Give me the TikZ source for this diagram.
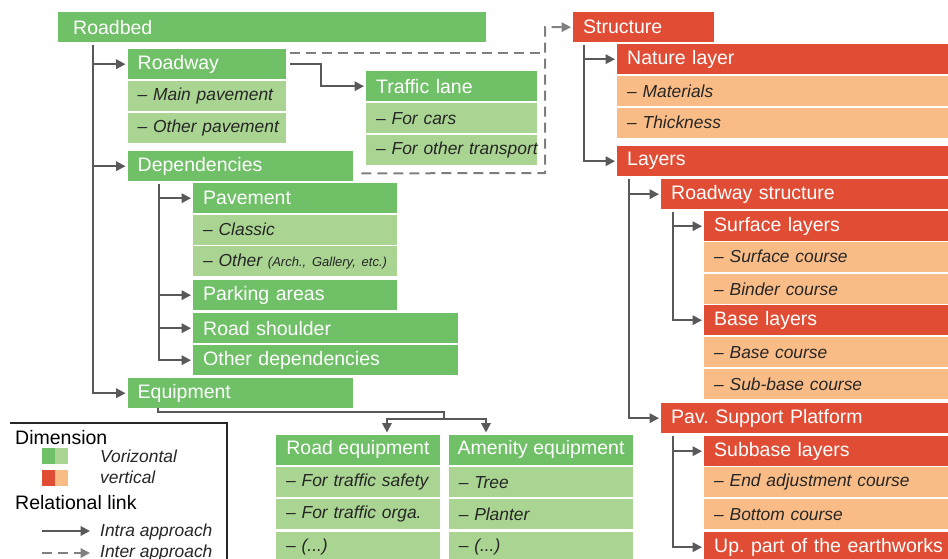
\documentclass[tikz,border=0pt]{standalone}
\usepackage{fontspec}
\setmainfont{Liberation Sans}
\usetikzlibrary{arrows.meta}
\definecolor{hgreen}{RGB}{112,192,104}
\definecolor{igreen}{RGB}{169,212,145}
\definecolor{hred}{RGB}{224,76,52}
\definecolor{iorange}{RGB}{250,188,134}
\definecolor{itext}{RGB}{38,38,38}
\definecolor{linkgray}{RGB}{89,89,89}
\definecolor{intergray}{RGB}{128,128,128}
\newcommand\headfont{\fontsize{19.5}{20}\selectfont}
\newcommand\itemfont{\fontsize{17.4}{18}\selectfont\itshape}
\frenchspacing
\hfuzz=30pt
\begin{document}
\begin{tikzpicture}
[x=1pt,y=-1pt,
box/.style={anchor=north west,minimum height=30pt,inner xsep=10pt,inner ysep=0pt,text width=#1,
  execute at begin node=\hbox\bgroup,execute at end node=\egroup},
hg/.style={box=#1,fill=hgreen,text=white,font=\headfont},
hgc/.style={anchor=north west,minimum height=30pt,minimum width=#1,inner sep=0pt,fill=hgreen,text=white,font=\headfont},
ig/.style={box=#1,fill=igreen,text=itext,font=\itemfont},
hr/.style={box=#1,fill=hred,text=white,font=\headfont},
io/.style={box=#1,fill=iorange,text=itext,font=\itemfont},
link/.style={draw=linkgray,line width=2pt,-{Triangle[length=9.5pt,width=9.5pt]},shorten >=2pt},
inter/.style={draw=intergray,line width=2pt,dash pattern=on 10pt off 6pt},
legtext/.style={anchor=base west,inner sep=0pt}]
\clip (0,0) rectangle (948,559);
\fill[white] (0,0) rectangle (948,559);
% roadbed side
\node[hg=398,inner xsep=15pt] (roadbed) at (58,12) {Roadbed};
\node[hg=138.5] (roadway) at (127.5,49) {Roadway};
\node[ig=138.5] (mainpav) at (127.5,81) {– Main pavement};
\node[ig=138.5] (otherpav) at (127.5,113) {– Other pavement};
\node[hg=151] (trafficlane) at (366,71) {Traffic lane};
\node[ig=151] (forcars) at (366,103) {– For cars};
\node[ig=151] (fortransport) at (366,135) {– For other transport};
\node[hg=205.5] (dependencies) at (127.5,151) {Dependencies};
\node[hg=184] (pavement) at (193,183) {Pavement};
\node[ig=184] (classic) at (193,214.5) {– Classic};
\node[ig=184] (otherpv) at (193,246) {– Other {\fontsize{13}{14}\selectfont(Arch., Gallery, etc.)}};
\node[hg=184] (parking) at (193,280) {Parking areas};
\node[hg=245] (shoulder) at (193,313) {Road shoulder};
\node[hg=245] (otherdeps) at (193,345) {Other dependencies};
\node[hg=205.5] (equipment) at (127.5,378) {Equipment};
\node[hgc=163.5] (roadeq) at (276,434.5) {Road equipment};
\node[ig=143.5] (safety) at (276,467) {– For traffic safety};
\node[ig=143.5] (orga) at (276,499) {– For traffic orga.};
\node[ig=143.5] (roaddots) at (276,532) {– (...)};
\node[hgc=184.4] (amenity) at (448.6,434.5) {Amenity equipment};
\node[ig=164.4] (tree) at (448.6,467) {– Tree};
\node[ig=164.4] (planter) at (448.6,499) {– Planter};
\node[ig=164.4] (amenitydots) at (448.6,532) {– (...)};
% structure side
\node[hr=121] (structure) at (573,12) {Structure};
\node[hr=323] (nature) at (617,44) {Nature layer};
\node[io=323] (materials) at (617,76) {– Materials};
\node[io=323] (thickness) at (617,107.5) {– Thickness};
\node[hr=323] (layers) at (617,146) {Layers};
\node[hr=279] (rdstructure) at (661,179) {Roadway structure};
\node[hr=236] (surface) at (704,211) {Surface layers};
\node[io=236] (surfacecourse) at (704,241.5) {– Surface course};
\node[io=236] (binder) at (704,274) {– Binder course};
\node[hr=236] (base) at (704,305) {Base layers};
\node[io=236] (basecourse) at (704,337) {– Base course};
\node[io=236] (subbasecourse) at (704,369) {– Sub-base course};
\node[hr=279] (platform) at (661,403) {Pav. Support Platform};
\node[hr=236] (subbase) at (704,436) {Subbase layers};
\node[io=236] (endadj) at (704,467) {– End adjustment course};
\node[io=236] (bottom) at (704,499) {– Bottom course};
\node[hr=236] (earthworks) at (704,532) {Up. part of the earthworks};
% intra links
\foreach \from/\to/\dx in {roadbed/roadway/35,roadbed/dependencies/35,roadbed/equipment/35,
  dependencies/pavement/31.5,dependencies/parking/31.5,dependencies/shoulder/31.5,dependencies/otherdeps/31.5,
  structure/nature/11,structure/layers/11,layers/rdstructure/12,layers/platform/12,
  rdstructure/surface/12,rdstructure/base/12,platform/subbase/12,platform/earthworks/12}
\draw[link] ([xshift=\dx pt,yshift=-3pt]\from.south west) |- (\to.west);
\draw[link] ([xshift=4pt]roadway.east) -| ++(31,0) |- (trafficlane.west);
\coordinate (eqsplit) at (444,419);
\draw[draw=linkgray,line width=2pt] ([xshift=30.5pt]equipment.south west) |- ++(0,4) -| (eqsplit);
\draw[link] (eqsplit) -| ([xshift=29pt]roadeq.north);
\draw[link] (eqsplit) -| ([xshift=-55pt]amenity.north);
% inter links
\coordinate (dashcorner) at (545,173);
\draw[inter] ([xshift=4pt,yshift=-4pt]roadway.north east) coordinate (dashtop) -- (dashtop -| dashcorner);
\draw[inter,-{Triangle[length=9.5pt,width=9.5pt]},shorten >=2pt] ([xshift=8pt,yshift=8pt]dependencies.south east) -- (dashcorner) |- (structure.west);
% legend
\draw[line width=2pt,draw=black!85] (10,422.7) -- (226.7,422.7) -- (226.7,570);
\node[legtext,font=\headfont] (dimension) at (15,444) {Dimension};
\fill[hgreen] (41.7,448.3) rectangle (55,464.3);
\fill[igreen] (55,448.3) rectangle (68.3,464.3);
\fill[hred] (41.7,470) rectangle (55,486);
\fill[iorange] (55,470) rectangle (68.3,486);
\node[legtext,font=\itemfont,text=itext] (vorizontal) at (100,462) {Vorizontal};
\node[legtext,font=\itemfont,text=itext] (vertical) at (100,483) {vertical};
\node[legtext,font=\headfont] (relational) at (15,509) {Relational link};
\node[legtext,font=\itemfont,text=itext] (intra) at (100,536) {Intra approach};
\node[legtext,font=\itemfont,text=itext] (interlbl) at (100,557) {Inter approach};
\coordinate (intrastart) at (41.7,531);
\coordinate (intraend) at (92,531);
\coordinate (interstart) at (41.7,553);
\coordinate (interend) at (92,553);
\draw[link] (intrastart) -- (intraend);
\draw[inter,-{Triangle[length=9.5pt,width=9.5pt]},shorten >=2pt] (interstart) -- (interend);
\end{tikzpicture}
\end{document}
